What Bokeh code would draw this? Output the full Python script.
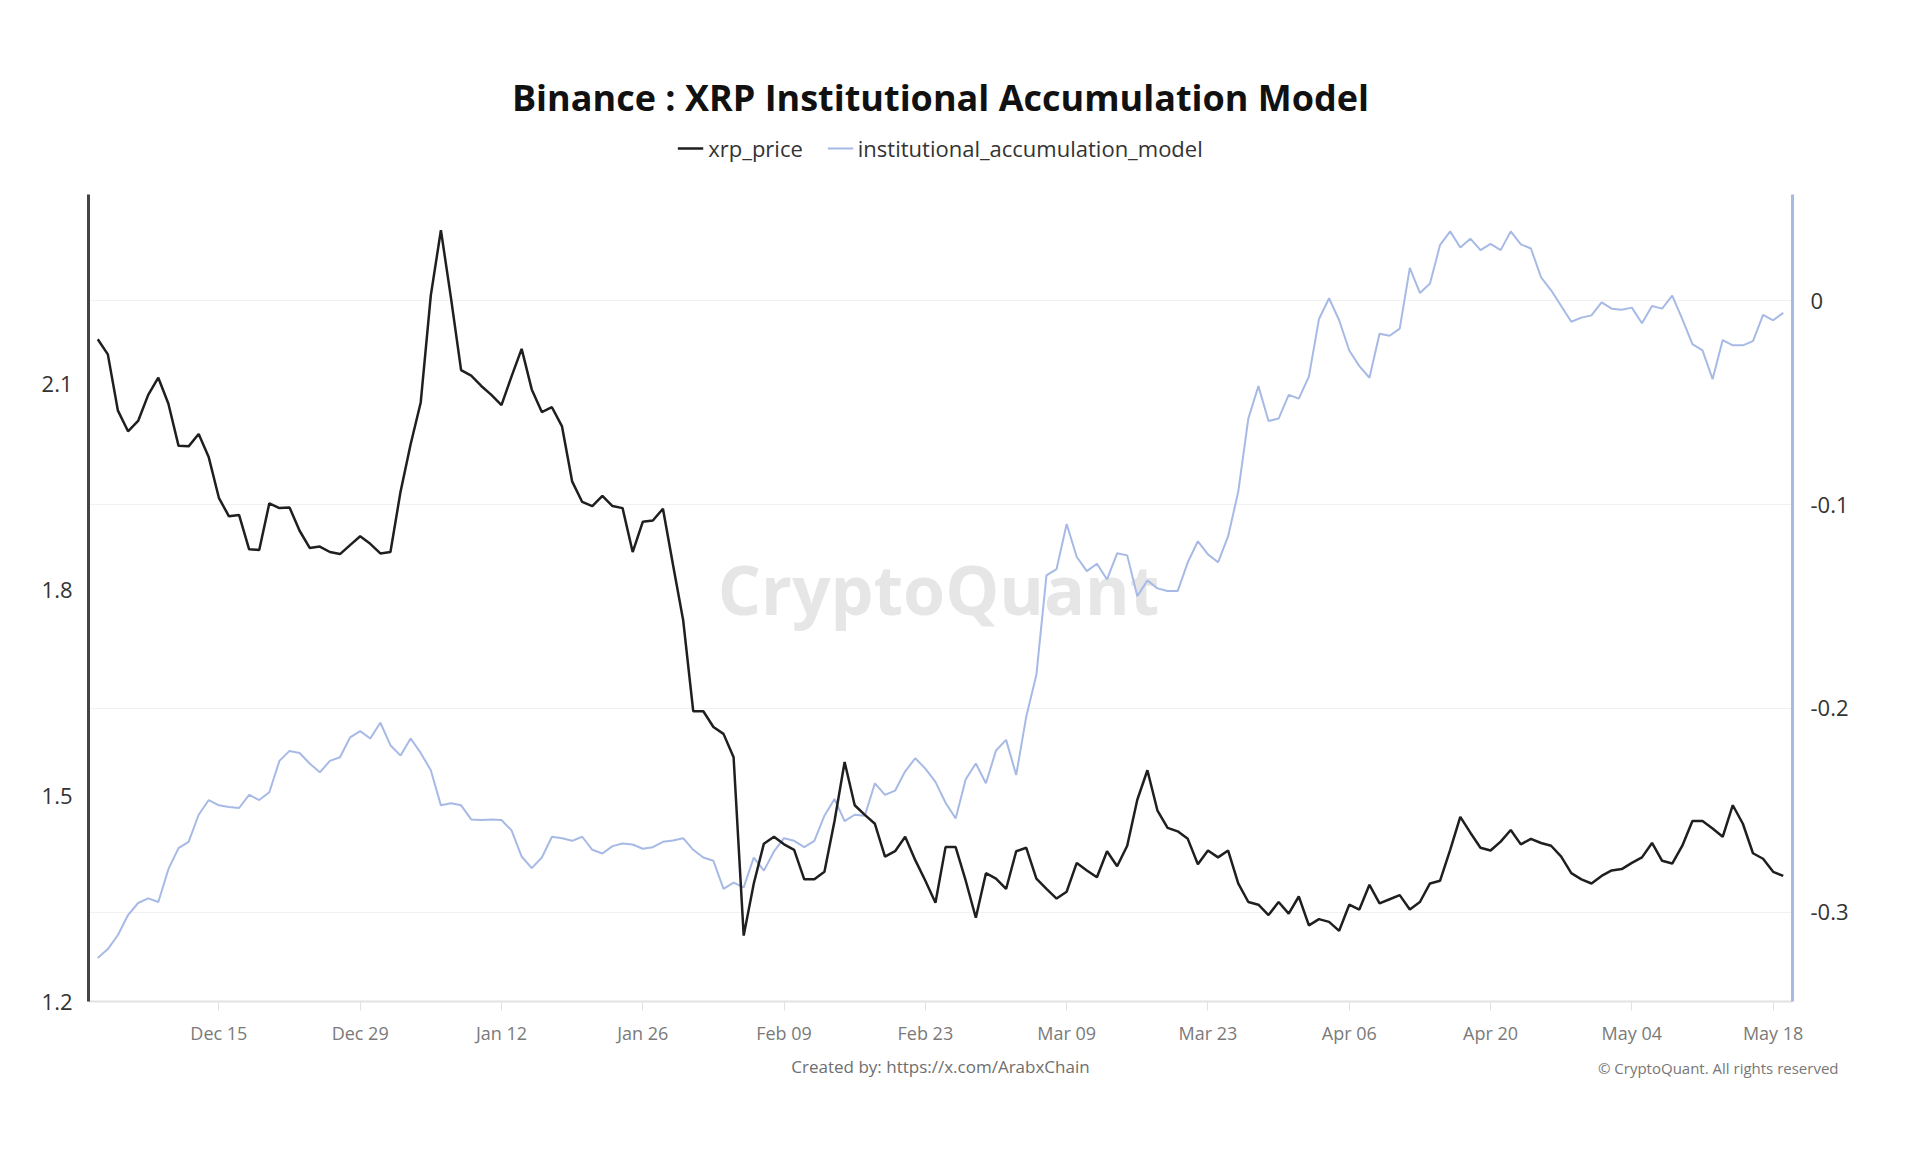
import pandas as pd
from bokeh.plotting import figure
from bokeh.layouts import column
from bokeh.models import (ColumnDataSource, Range1d, LinearAxis, FixedTicker, Spacer, Title,
                          DatetimeTickFormatter, Grid, Legend, LegendItem, Label)
from bokeh.embed import file_html
from bokeh.resources import INLINE

# daily values
start_date = "2025-12-03"

xrp_price = [
    2.165, 2.143, 2.061, 2.031, 2.046, 2.084, 2.109, 2.071, 2.010, 2.009,
    2.027, 1.993, 1.934, 1.907, 1.909, 1.859, 1.858, 1.926, 1.919, 1.920,
    1.886, 1.861, 1.863, 1.855, 1.852, 1.865, 1.878, 1.867, 1.853, 1.855,
    1.943, 2.012, 2.073, 2.229, 2.324, 2.225, 2.120, 2.112, 2.097, 2.084,
    2.069, 2.111, 2.151, 2.092, 2.059, 2.066, 2.038, 1.958, 1.928, 1.922,
    1.937, 1.922, 1.919, 1.855, 1.899, 1.901, 1.918, 1.836, 1.756, 1.623,
    1.623, 1.600, 1.590, 1.556, 1.296, 1.372, 1.430, 1.440, 1.429, 1.421,
    1.378, 1.378, 1.389, 1.463, 1.549, 1.486, 1.472, 1.459, 1.411, 1.419,
    1.440, 1.406, 1.376, 1.344, 1.425, 1.425, 1.376, 1.322, 1.387, 1.379,
    1.364, 1.419, 1.424, 1.379, 1.364, 1.350, 1.360, 1.402, 1.391, 1.381,
    1.419, 1.397, 1.427, 1.494, 1.537, 1.478, 1.453, 1.448, 1.437, 1.400,
    1.420, 1.410, 1.420, 1.372, 1.345, 1.341, 1.326, 1.345, 1.328, 1.353,
    1.311, 1.320, 1.316, 1.303, 1.341, 1.334, 1.370, 1.343, 1.349, 1.355,
    1.334, 1.345, 1.372, 1.376, 1.421, 1.469, 1.446, 1.424, 1.420, 1.433,
    1.450, 1.429, 1.437, 1.431, 1.427, 1.411, 1.387, 1.378, 1.372, 1.383,
    1.391, 1.393, 1.402, 1.410, 1.431, 1.405, 1.401, 1.427, 1.463, 1.463,
    1.452, 1.440, 1.486, 1.459, 1.416, 1.408, 1.389, 1.383,
]

institutional_accumulation_model = [
    -0.3224, -0.3180, -0.3111, -0.3013, -0.2954, -0.2931, -0.2949, -0.2788, -0.2685, -0.2654,
    -0.2521, -0.2449, -0.2475, -0.2483, -0.2488, -0.2424, -0.2449, -0.2411, -0.2257, -0.2208,
    -0.2218, -0.2270, -0.2313, -0.2257, -0.2239, -0.2142, -0.2111, -0.2147, -0.2070, -0.2180,
    -0.2231, -0.2147, -0.2218, -0.2303, -0.2475, -0.2465, -0.2475, -0.2544, -0.2547, -0.2544,
    -0.2547, -0.2598, -0.2726, -0.2783, -0.2731, -0.2629, -0.2636, -0.2649, -0.2629, -0.2693,
    -0.2711, -0.2675, -0.2662, -0.2667, -0.2688, -0.2680, -0.2654, -0.2647, -0.2636, -0.2693,
    -0.2731, -0.2747, -0.2885, -0.2854, -0.2877, -0.2731, -0.2795, -0.2701, -0.2636, -0.2649,
    -0.2680, -0.2649, -0.2526, -0.2444, -0.2552, -0.2521, -0.2526, -0.2367, -0.2424, -0.2403,
    -0.2308, -0.2244, -0.2295, -0.2360, -0.2462, -0.2539, -0.2347, -0.2270, -0.2367, -0.2206,
    -0.2154, -0.2326, -0.2039, -0.1834, -0.1347, -0.1316, -0.1095, -0.1257, -0.1326, -0.1290,
    -0.1367, -0.1239, -0.1249, -0.1449, -0.1372, -0.1411, -0.1424, -0.1424, -0.1283, -0.1180,
    -0.1244, -0.1283, -0.1155, -0.0937, -0.0578, -0.0419, -0.0590, -0.0578, -0.0462, -0.0480,
    -0.0372, -0.0090, 0.0012, -0.0096, -0.0244, -0.0321, -0.0378, -0.0162, -0.0172, -0.0137,
    0.0161, 0.0038, 0.0084, 0.0274, 0.0340, 0.0261, 0.0304, 0.0248, 0.0279, 0.0248,
    0.0340, 0.0276, 0.0256, 0.0115, 0.0051, -0.0026, -0.0103, -0.0083, -0.0072, -0.0008,
    -0.0039, -0.0044, -0.0034, -0.0111, -0.0026, -0.0039, 0.0025, -0.0090, -0.0213, -0.0244,
    -0.0385, -0.0193, -0.0219, -0.0219, -0.0198, -0.0070, -0.0096, -0.0060,
]

date_ticks = ["2025-12-15", "2025-12-29", "2026-01-12", "2026-01-26", "2026-02-09", "2026-02-23",
              "2026-03-09", "2026-03-23", "2026-04-06", "2026-04-20", "2026-05-04", "2026-05-18"]
price_ticks = [1.2, 1.5, 1.8, 2.1]
model_ticks = [-0.3, -0.2, -0.1, 0]
model_tick_labels = ["-0.3", "-0.2", "-0.1", "0"]

FONT = "Open Sans"
PRICE_COLOR = "#1f1f1f"
MODEL_COLOR = "#a7bae5"

# axis extents of the chart; the frame reaches a bit higher to hold the legend
price_lo, price_hi, price_top = 1.2, 2.376, 2.4649
model_lo, model_hi, model_top = -0.3437, 0.052, 0.0820

dates = pd.date_range(start_date, periods=len(xrp_price), freq="D")
source = ColumnDataSource(dict(date=dates, price=xrp_price, model=institutional_accumulation_model))

pad = pd.Timedelta(hours=22)
p = figure(width=1900, height=1062, x_axis_type="datetime",
           x_range=Range1d(dates[0] - pad, dates[-1] + pad),
           y_range=Range1d(price_lo, price_top),
           output_backend="svg", toolbar_location=None,
           min_border_left=88, min_border_right=108, min_border_top=0, min_border_bottom=120)
p.extra_y_ranges = {"model": Range1d(model_lo, model_top)}
p.outline_line_color = None

p.title.text = "Binance : XRP Institutional Accumulation Model"
p.title.align = "center"
p.title.text_font = FONT
p.title.text_font_size = "36px"
p.title.text_font_style = "bold"
p.title.text_color = "#111111"
p.title.standoff = 23

# grid follows the right-hand axis
p.xgrid.visible = False
p.ygrid.visible = False
p.add_layout(Grid(dimension=1, ticker=FixedTicker(ticks=model_ticks), y_range_name="model",
                  grid_line_color="#f1f1f1", grid_line_width=1))

# x axis
tick_ms = [int(t.value // 10**6) for t in pd.to_datetime(date_ticks)]
xa = p.xaxis[0]
xa.ticker = FixedTicker(ticks=tick_ms)
xa.formatter = DatetimeTickFormatter(days="%b %d", months="%b %d", years="%b %d")
xa.axis_line_color = "#e2e2e2"
xa.axis_line_width = 2
xa.major_tick_line_color = "#e2e2e2"
xa.major_tick_out = 9
xa.major_tick_in = 0
xa.minor_tick_line_color = None
xa.major_label_text_font = FONT
xa.major_label_text_font_size = "18px"
xa.major_label_text_color = "#7a7a7a"
xa.major_label_standoff = 10

# left axis (price)
ya = p.yaxis[0]
ya.ticker = FixedTicker(ticks=price_ticks)
ya.bounds = (price_lo, price_hi)
ya.axis_line_color = "#444444"
ya.axis_line_width = 3
ya.major_tick_line_color = None
ya.minor_tick_line_color = None
ya.major_label_text_font = FONT
ya.major_label_text_font_size = "22px"
ya.major_label_text_color = "#333333"
ya.major_label_standoff = 10

# right axis (model)
ra = LinearAxis(y_range_name="model", ticker=FixedTicker(ticks=model_ticks),
                bounds=(model_lo, model_hi))
ra.major_label_overrides = dict(zip(model_ticks, model_tick_labels))
ra.axis_line_color = MODEL_COLOR
ra.axis_line_width = 3
ra.major_tick_line_color = None
ra.minor_tick_line_color = None
ra.major_label_text_font = FONT
ra.major_label_text_font_size = "22px"
ra.major_label_text_color = "#333333"
ra.major_label_standoff = 12
p.add_layout(ra, "right")

# watermark
p.add_layout(Label(x=850, y=413, x_units="screen", y_units="screen", text="CryptoQuant",
                   text_align="center", text_baseline="middle", text_font=FONT,
                   text_font_size="68px", text_font_style="bold", text_color="#e6e6e6",
                   level="underlay"))

r_model = p.line("date", "model", source=source, y_range_name="model",
                 line_color=MODEL_COLOR, line_width=2)
r_price = p.line("date", "price", source=source, line_color=PRICE_COLOR, line_width=2.5)

legend = Legend(items=[LegendItem(label="xrp_price", renderers=[r_price]),
                       LegendItem(label="institutional_accumulation_model", renderers=[r_model])],
                orientation="horizontal", location="top_center",
                label_text_font=FONT, label_text_font_size="22px", label_text_color="#333333",
                glyph_width=26, glyph_height=20, spacing=24, label_standoff=5,
                padding=0, margin=0, border_line_color=None, background_fill_alpha=0)
p.add_layout(legend, "center")

# footer texts
p.add_layout(Title(text="Created by: https://x.com/ArabxChain", align="center",
                   text_font=FONT, text_font_size="17px", text_font_style="normal",
                   text_color="#6e6e6e", standoff=10), "below")
p.add_layout(Title(text="\u00a9 CryptoQuant. All rights reserved", align="right", offset=-46,
                   vertical_align="top", text_font=FONT, text_font_size="15px",
                   text_font_style="normal", text_color="#777777", standoff=-50), "below")

page = column(Spacer(width=1900, height=59), p)
open("out.html", "w").write(file_html(page, INLINE))
